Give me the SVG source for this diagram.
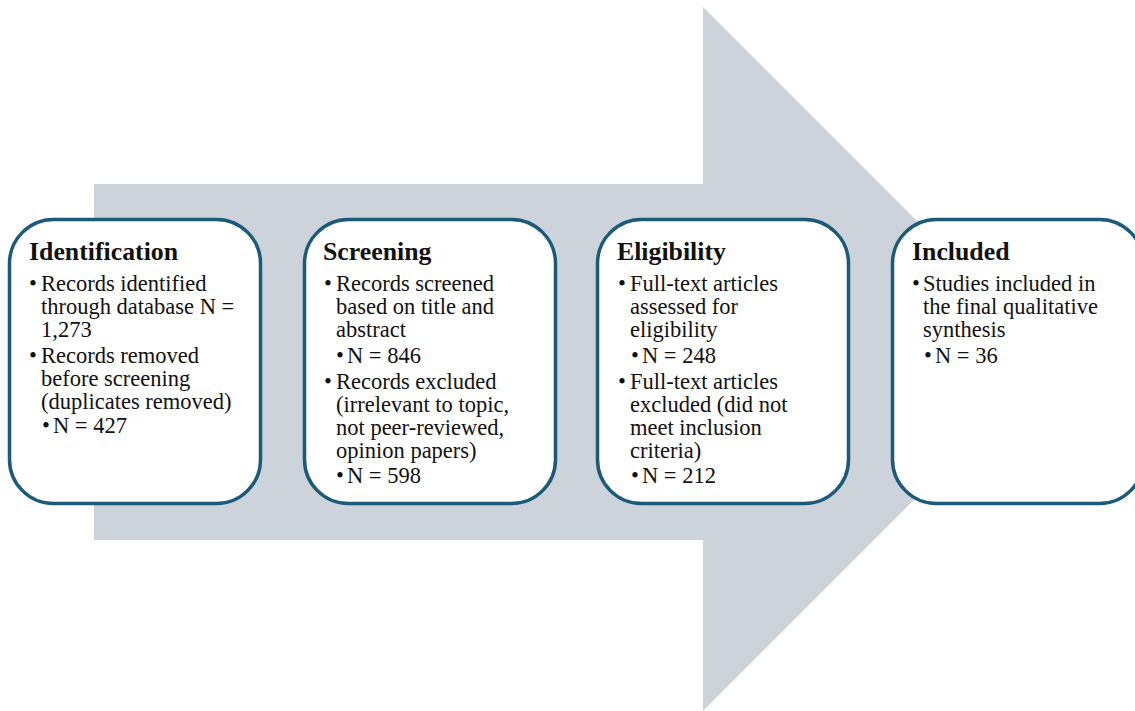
<svg xmlns="http://www.w3.org/2000/svg" width="1135" height="711" viewBox="0 0 1135 711">
<style>
.bg{fill:#ffffff}
.arrow{fill:#CDD3DA}
.box{fill:#ffffff;stroke:#1B5A78;stroke-width:3.5}
.title{font-family:"Liberation Serif",serif;font-weight:bold;font-size:25.8px;fill:#111111}
.body{font-family:"Liberation Serif",serif;font-size:22.5px;fill:#111111}
</style>
<rect class="bg" x="0" y="0" width="1135" height="711"/>
<g id="arrow">
<path class="arrow" d="M94 184 H703 V7 L1055 359 L703 711 V540 H94 Z"/>
</g>
<g id="connectors"></g>
<g id="identification">
<rect class="box" x="9.5" y="219.5" width="251" height="284" rx="44" ry="44"/>
<text class="title" x="29" y="260">Identification</text>
<text class="body">
<tspan x="29" y="291">•</tspan><tspan x="41" y="291">Records identified</tspan>
<tspan x="41" y="314">through database N =</tspan>
<tspan x="41" y="337">1,273</tspan>
<tspan x="29" y="363">•</tspan><tspan x="41" y="363">Records removed</tspan>
<tspan x="41" y="386">before screening</tspan>
<tspan x="41" y="409">(duplicates removed)</tspan>
<tspan x="42" y="433">•</tspan><tspan x="53" y="433">N = 427</tspan>
</text>
</g>
<g id="screening">
<rect class="box" x="304.5" y="219.5" width="251" height="284" rx="44" ry="44"/>
<text class="title" x="323" y="260">Screening</text>
<text class="body">
<tspan x="324" y="291">•</tspan><tspan x="336" y="291">Records screened</tspan>
<tspan x="336" y="314">based on title and</tspan>
<tspan x="336" y="337">abstract</tspan>
<tspan x="336" y="363">•</tspan><tspan x="347" y="363">N = 846</tspan>
<tspan x="324" y="389">•</tspan><tspan x="336" y="389">Records excluded</tspan>
<tspan x="336" y="412">(irrelevant to topic,</tspan>
<tspan x="336" y="435">not peer-reviewed,</tspan>
<tspan x="336" y="458">opinion papers)</tspan>
<tspan x="336" y="483">•</tspan><tspan x="347" y="483">N = 598</tspan>
</text>
</g>
<g id="eligibility">
<rect class="box" x="597.5" y="219.5" width="251" height="284" rx="44" ry="44"/>
<text class="title" x="617" y="260">Eligibility</text>
<text class="body">
<tspan x="618" y="291">•</tspan><tspan x="630" y="291">Full-text articles</tspan>
<tspan x="630" y="314">assessed for</tspan>
<tspan x="630" y="337">eligibility</tspan>
<tspan x="631" y="363">•</tspan><tspan x="642" y="363">N = 248</tspan>
<tspan x="618" y="389">•</tspan><tspan x="630" y="389">Full-text articles</tspan>
<tspan x="630" y="412">excluded (did not</tspan>
<tspan x="630" y="435">meet inclusion</tspan>
<tspan x="630" y="458">criteria)</tspan>
<tspan x="631" y="483">•</tspan><tspan x="642" y="483">N = 212</tspan>
</text>
</g>
<g id="included">
<rect class="box" x="892.5" y="219.5" width="251" height="284" rx="44" ry="44"/>
<text class="title" x="912" y="260">Included</text>
<text class="body">
<tspan x="912" y="291">•</tspan><tspan x="923" y="291">Studies included in</tspan>
<tspan x="923" y="314">the final qualitative</tspan>
<tspan x="923" y="337">synthesis</tspan>
<tspan x="924" y="363">•</tspan><tspan x="935" y="363">N = 36</tspan>
</text>
</g>
</svg>
